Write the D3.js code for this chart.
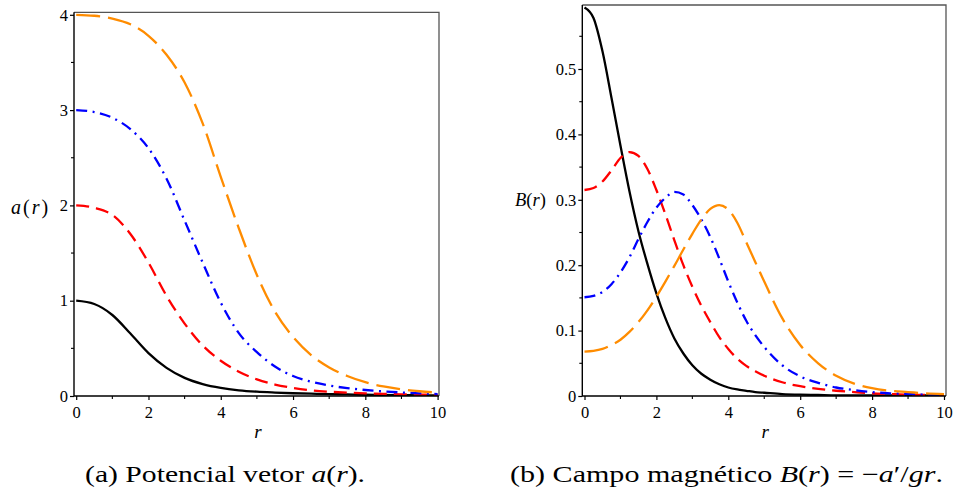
<!DOCTYPE html>
<html>
<head>
<meta charset="utf-8">
<script src="https://cdn.jsdelivr.net/npm/d3@7"></script>
<style>
  html, body { margin: 0; padding: 0; background: #fff; }
  svg { display: block; }
  svg text { font-family: "Liberation Serif", Tinos, "DejaVu Serif", serif; fill: #000; }
</style>
</head>
<body>
<svg id="fig" width="955" height="498"></svg>
<script>
// ---- data: vector potential a(r) for n = 1..4 ----
const rA = [0,0.5,1,1.5,2,2.5,3,3.5,4,4.5,5,5.5,6,6.5,7,7.5,8,8.5,9,9.5,10];
const aN1 = [1.0,0.965,0.85,0.655,0.45,0.295,0.19,0.125,0.085,0.06,0.045,0.036,0.029,0.024,0.02,0.016,0.013,0.011,0.009,0.007,0.006];
const aN2 = [2.0,1.975,1.9,1.70,1.40,1.05,0.76,0.53,0.37,0.255,0.175,0.12,0.085,0.06,0.045,0.035,0.028,0.022,0.018,0.015,0.012];
const aN3 = [3.0,2.98,2.92,2.8,2.6,2.28,1.84,1.40,0.98,0.66,0.46,0.31,0.21,0.15,0.11,0.083,0.063,0.048,0.037,0.028,0.02];
const aN4 = [4.0,3.99,3.96,3.9,3.78,3.58,3.29,2.86,2.30,1.76,1.27,0.885,0.62,0.43,0.30,0.21,0.145,0.1,0.07,0.05,0.035];

// ---- data: magnetic field B(r) for n = 1..4 ----
const rB = [0,0.25,0.5,0.75,1,1.25,1.5,1.75,2,2.25,2.5,2.75,3,3.25,3.5,3.75,4,4.25,4.5,4.75,5,5.5,6,6.5,7,7.5,8,8.5,9,9.5,10];
const bN1 = [0.594,0.578,0.527,0.456,0.383,0.313,0.252,0.202,0.157,0.119,0.088,0.065,0.047,0.034,0.025,0.018,0.013,0.01,0.008,0.006,0.005,0.003,0.002,0.0015,0.001,0.001,0.001,0.001,0.001,0.001,0.001];
const bN2 = [0.315,0.318,0.328,0.345,0.364,0.373,0.367,0.347,0.315,0.278,0.238,0.2,0.167,0.138,0.113,0.09,0.072,0.057,0.046,0.038,0.031,0.021,0.015,0.011,0.008,0.006,0.004,0.003,0.002,0.0015,0.001];
const bN3 = [0.151,0.153,0.159,0.171,0.189,0.212,0.24,0.266,0.288,0.303,0.312,0.308,0.292,0.27,0.243,0.21,0.175,0.143,0.115,0.093,0.075,0.047,0.03,0.02,0.013,0.009,0.006,0.004,0.003,0.002,0.0015];
const bN4 = [0.068,0.069,0.072,0.078,0.086,0.098,0.113,0.131,0.152,0.175,0.199,0.224,0.248,0.27,0.286,0.292,0.285,0.265,0.235,0.205,0.175,0.119,0.078,0.05,0.031,0.019,0.012,0.008,0.006,0.004,0.003];

// ---- tick labels ----
const xTickLabels = ["0","2","4","6","8","10"];
const yTickLabelsA = ["0","1","2","3","4"];
const yTickLabelsB = ["0","0.1","0.2","0.3","0.4","0.5"];

// ---- series styling (n = 1..4) ----
const seriesStyle = [
  { color: "#000000", dash: null },
  { color: "#ff0000", dash: "13,7" },
  { color: "#0000ff", dash: "11,5.5,2,5.5" },
  { color: "#ff8c00", dash: "24,8" }
];

const SERIF = '"Liberation Serif", Tinos, "DejaVu Serif", serif';
const svg = d3.select("#fig");

function drawPanel(cfg) {
  const g = svg.append("g");
  const x = d3.scaleLinear().domain([0, 10]).range(cfg.xRange);
  const y = d3.scaleLinear().domain(cfg.yDomain).range(cfg.yRange);

  // frame: top and right edges
  g.append("path")
    .attr("d", `M${cfg.box.l},${cfg.box.t}H${cfg.box.r}V${cfg.box.b}`)
    .attr("fill", "none").attr("stroke", "#555").attr("stroke-width", 1.3);

  // curves
  const line = d3.line().x(d => x(d[0])).y(d => y(d[1])).curve(d3.curveMonotoneX);
  const clipId = cfg.id + "-clip";
  g.append("clipPath").attr("id", clipId).append("rect")
    .attr("x", cfg.box.l).attr("y", cfg.box.t - 2)
    .attr("width", cfg.box.r - cfg.box.l).attr("height", cfg.box.b - cfg.box.t + 2);
  const cg = g.append("g").attr("clip-path", `url(#${clipId})`);
  cfg.series.forEach((vals, i) => {
    const pts = cfg.r.map((rv, k) => [rv, vals[k]]);
    cg.append("path")
      .attr("d", line(pts))
      .attr("fill", "none")
      .attr("stroke", seriesStyle[i].color)
      .attr("stroke-width", 2.3)
      .attr("stroke-dasharray", seriesStyle[i].dash)
      .attr("stroke-linecap", "butt");
  });

  // x axis (bottom)
  const xAxis = d3.axisBottom(x)
    .tickValues(d3.range(0, 11, 2))
    .tickFormat((d, i) => xTickLabels[i])
    .tickSizeInner(4).tickSizeOuter(0).tickPadding(3);
  const xa = g.append("g").attr("transform", `translate(0,${cfg.box.b})`).call(xAxis)
    .attr("font-family", SERIF).attr("font-size", 16.5);
  xa.select(".domain").remove();
  xa.selectAll("text").attr("dy", "0.88em");
  xa.selectAll("line").attr("stroke-width", 1.2);
  // minor x ticks
  g.append("g").selectAll("line").data(d3.range(1, 10, 2)).join("line")
    .attr("x1", d => x(d)).attr("x2", d => x(d))
    .attr("y1", cfg.box.b).attr("y2", cfg.box.b + 3)
    .attr("stroke", "#000").attr("stroke-width", 1.1);

  // y axis (left)
  const yAxis = d3.axisLeft(y)
    .tickValues(cfg.yTicks)
    .tickFormat((d, i) => cfg.yLabels[i])
    .tickSizeInner(4).tickSizeOuter(0).tickPadding(2);
  const ya = g.append("g").attr("transform", `translate(${cfg.box.l},0)`).call(yAxis)
    .attr("font-family", SERIF).attr("font-size", 16.5);
  ya.select(".domain").remove();
  ya.selectAll("line").attr("stroke-width", 1.2);
  g.append("g").selectAll("line").data(cfg.yMinor).join("line")
    .attr("x1", cfg.box.l - 3).attr("x2", cfg.box.l)
    .attr("y1", d => y(d)).attr("y2", d => y(d))
    .attr("stroke", "#000").attr("stroke-width", 1.1);

  // axis lines
  g.append("path")
    .attr("d", `M${cfg.box.l},${cfg.box.t}V${cfg.box.b}H${cfg.box.r}`)
    .attr("fill", "none").attr("stroke", "#000").attr("stroke-width", 1.4);

  // x label
  g.append("text")
    .attr("x", (cfg.xRange[0] + cfg.xRange[1]) / 2 + 1).attr("y", 438)
    .attr("text-anchor", "middle").attr("font-size", 19).attr("font-style", "italic")
    .text("r");

  return g;
}

// panel (a): a(r)
drawPanel({
  id: "pa",
  box: { l: 74, r: 439, t: 12.3, b: 396 },
  xRange: [76.2, 437.6],
  yDomain: [0, 4], yRange: [396, 14.8],
  yTicks: [0, 1, 2, 3, 4], yLabels: yTickLabelsA,
  yMinor: [0.5, 1.5, 2.5, 3.5],
  r: rA, series: [aN1, aN2, aN3, aN4]
});

// panel (b): B(r)
drawPanel({
  id: "pb",
  box: { l: 582.3, r: 946, t: 5, b: 396 },
  xRange: [584.5, 944],
  yDomain: [0, 0.5], yRange: [396, 69],
  yTicks: [0, 0.1, 0.2, 0.3, 0.4, 0.5], yLabels: yTickLabelsB,
  yMinor: [0.05, 0.15, 0.25, 0.35, 0.45, 0.55],
  r: rB, series: [bN1, bN2, bN3, bN4]
});

// y axis labels
const la = svg.append("text").attr("x", 11).attr("y", 214).attr("font-size", 20);
la.append("tspan").attr("font-style", "italic").text("a");
la.append("tspan").attr("dx", 2).text("(");
la.append("tspan").attr("dx", 2).attr("font-style", "italic").text("r");
la.append("tspan").attr("dx", 2).text(")");

const lb = svg.append("text").attr("x", 515).attr("y", 206).attr("font-size", 18.5);
lb.append("tspan").attr("font-style", "italic").text("B");
lb.append("tspan").text("(");
lb.append("tspan").attr("font-style", "italic").text("r");
lb.append("tspan").text(")");

// captions, stretched to their printed widths
function caption(parts, x0, width) {
  const t = svg.append("text").attr("x", x0).attr("y", 482)
    .attr("font-size", 23.5)
    .attr("textLength", width).attr("lengthAdjust", "spacingAndGlyphs");
  parts.forEach(p => {
    const s = t.append("tspan").text(p[0]);
    if (p[1]) s.attr("font-style", "italic");
  });
}
caption([["(a) Potencial vetor "], ["a", 1], ["("], ["r", 1], [")."]], 85, 280);
caption([["(b) Campo magnético "], ["B", 1], ["("], ["r", 1], [") = −"], ["a", 1], ["′/"], ["gr", 1], ["."]], 510, 433);
</script>
</body>
</html>
